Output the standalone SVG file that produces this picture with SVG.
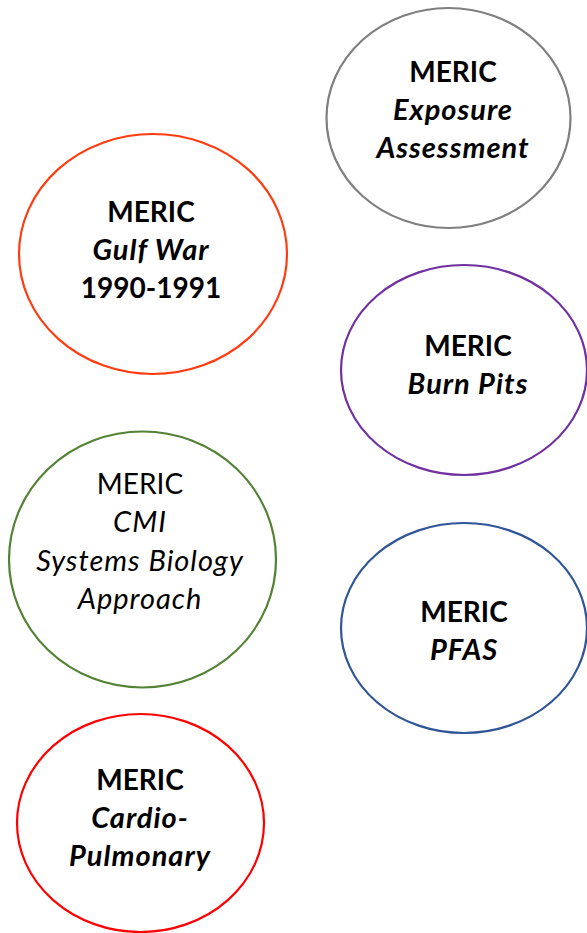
<svg xmlns="http://www.w3.org/2000/svg" width="587" height="933" viewBox="0 0 587 933">
<style>
.n{fill:#fff;stroke-width:2.2}
.t{font-family:Lato,"Open Sans",sans-serif;font-size:28px;text-anchor:middle;fill:#000}
.b{font-weight:bold}
.i{font-style:italic;font-size:29px;letter-spacing:1px}
</style>
<rect width="587" height="933" fill="#fff"/>
<g id="connectors"/>
<g id="exposure">
<ellipse class="n" cx="448.5" cy="118" rx="122" ry="110" stroke="#7f7f7f"/>
<text class="t b" x="453" y="82">MERIC</text>
<text class="t b i" x="453" y="120">Exposure</text>
<text class="t b i" x="453" y="158">Assessment</text>
</g>
<g id="gulfwar">
<ellipse class="n" cx="153" cy="254" rx="134" ry="120" stroke="#ff3c0f"/>
<text class="t b" x="151" y="222">MERIC</text>
<text class="t b i" x="151" y="260">Gulf War</text>
<text class="t b" x="151" y="298">1990-1991</text>
</g>
<g id="burnpits">
<ellipse class="n" cx="464" cy="370" rx="123" ry="105" stroke="#7030a0"/>
<text class="t b" x="468" y="356">MERIC</text>
<text class="t b i" x="468" y="394">Burn Pits</text>
</g>
<g id="cmi">
<ellipse class="n" cx="142.5" cy="559.5" rx="133.5" ry="128" stroke="#548235"/>
<text class="t" x="140" y="494">MERIC</text>
<text class="t i" x="140" y="532">CMI</text>
<text class="t i" x="140" y="571">Systems Biology</text>
<text class="t i" x="140" y="609">Approach</text>
</g>
<g id="pfas">
<ellipse class="n" cx="464" cy="628" rx="123" ry="105" stroke="#2f5597"/>
<text class="t b" x="464" y="622">MERIC</text>
<text class="t b i" x="464" y="660">PFAS</text>
</g>
<g id="cardio">
<ellipse class="n" cx="140.5" cy="823" rx="123.5" ry="109" stroke="#ff0000"/>
<text class="t b" x="140" y="790">MERIC</text>
<text class="t b i" x="140" y="828">Cardio-</text>
<text class="t b i" x="140" y="866">Pulmonary</text>
</g>
</svg>
